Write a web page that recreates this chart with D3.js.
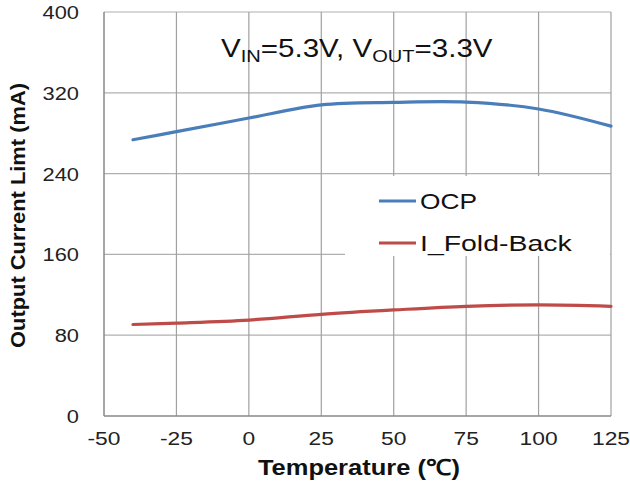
<!DOCTYPE html>
<html><head><meta charset="utf-8">
<script src="https://cdn.jsdelivr.net/npm/d3@7"></script>
<style>body{margin:0;background:#fff}svg{display:block;font-family:Arial,"Liberation Sans",sans-serif}</style>
</head><body><svg id="c" width="630" height="484"></svg>
<script>
const xTicks = [-50,-25,0,25,50,75,100,125];
const yTicks = [0,80,160,240,320,400];
const ocpTemp = [-40,-25,0,25,50,75,100,125];
const ocpVal  = [273.5,281.5,295,308,310.5,310.8,304,287];
const fbTemp  = [-40,-25,0,25,50,75,100,125];
const fbVal   = [90.6,92,95,100.7,105,108.6,110,108.6];
const seriesNames = ["OCP","I_Fold-Back"];
const seriesColors = ["#4A7EBB","#BE4B48"];

const svg = d3.select("#c");
const L=104,R=611,T=12,B=416;
const x = d3.scaleLinear().domain([-50,125]).range([L,R]);
const y = d3.scaleLinear().domain([0,400]).range([B,T]);

// horizontal stretch of a text element about its anchor x
function stretch(node, k){
  const ax = +node.getAttribute("x");
  node.setAttribute("transform",`translate(${ax},0) scale(${k},1) translate(${-ax},0)`);
}
function fit(node, w){ stretch(node, w/node.getBBox().width); }

// gridlines
svg.append("g").selectAll("line").data(yTicks.slice(1)).join("line")
  .attr("x1",L).attr("x2",R).attr("y1",d=>y(d)).attr("y2",d=>y(d))
  .attr("stroke","#b0b0b0").attr("stroke-width",1.2);
svg.append("g").selectAll("line").data(xTicks.slice(1)).join("line")
  .attr("x1",d=>x(d)).attr("x2",d=>x(d)).attr("y1",T).attr("y2",B)
  .attr("stroke","#a0a0a0").attr("stroke-width",1.2);

// legend background
svg.append("rect").attr("x",345).attr("y",176).attr("width",265).attr("height",80).attr("fill","#fff");

// axes
svg.append("line").attr("x1",L).attr("x2",L).attr("y1",T).attr("y2",B).attr("stroke","#888").attr("stroke-width",1.5);
svg.append("line").attr("x1",L).attr("x2",R).attr("y1",B).attr("y2",B).attr("stroke","#888").attr("stroke-width",1.5);

// tick labels
svg.append("g").selectAll("text").data(yTicks).join("text")
  .attr("x",79).attr("y",d=>y(d)+7).attr("text-anchor","end")
  .attr("font-size",19).attr("fill","#222").text(d=>d)
  .each(function(){stretch(this,1.15);});
svg.append("g").selectAll("text").data(xTicks).join("text")
  .attr("x",d=>x(d)).attr("y",445).attr("text-anchor","middle")
  .attr("font-size",19).attr("fill","#222").text(d=>d)
  .each(function(){stretch(this,1.2);});

// lines
const line = d3.line().x(d=>x(d[0])).y(d=>y(d[1])).curve(d3.curveCatmullRom.alpha(0.5));
const data = [d3.zip(ocpTemp,ocpVal), d3.zip(fbTemp,fbVal)];
svg.append("g").selectAll("path").data(data).join("path")
  .attr("d",line).attr("fill","none").attr("stroke",(d,i)=>seriesColors[i])
  .attr("stroke-width",3.2).attr("stroke-linecap","round");

// legend
const legW = [57,153];
const lg = svg.append("g").selectAll("g").data(seriesNames).join("g")
  .attr("transform",(d,i)=>`translate(0,${201+i*42})`);
lg.append("line").attr("x1",379).attr("x2",416).attr("y1",0).attr("y2",0)
  .attr("stroke",(d,i)=>seriesColors[i]).attr("stroke-width",3);
lg.append("text").attr("x",420).attr("y",8).attr("font-size",22).attr("fill","#111").text(d=>d)
  .each(function(d,i){fit(this,legW[i]);});

// annotation
const ann = svg.append("text").attr("x",221).attr("y",57).attr("font-size",25).attr("fill","#111");
ann.append("tspan").text("V");
ann.append("tspan").attr("font-size",17).attr("dy",5).text("IN");
ann.append("tspan").attr("dy",-5).text("=5.3V, V");
ann.append("tspan").attr("font-size",17).attr("dy",5).text("OUT");
ann.append("tspan").attr("dy",-5).text("=3.3V");
fit(ann.node(),272);

// axis titles
const xt = svg.append("text").attr("x",359).attr("y",475).attr("text-anchor","middle")
  .attr("font-size",22).attr("font-weight","bold").attr("fill","#111").text("Temperature (℃)");
fit(xt.node(),202);
svg.append("text").attr("transform","translate(25,215.5) rotate(-90)").attr("text-anchor","middle")
  .attr("font-size",21).attr("font-weight","bold").attr("fill","#111")
  .attr("textLength",265).attr("lengthAdjust","spacingAndGlyphs").text("Output Current Limt (mA)");
</script></body></html>
